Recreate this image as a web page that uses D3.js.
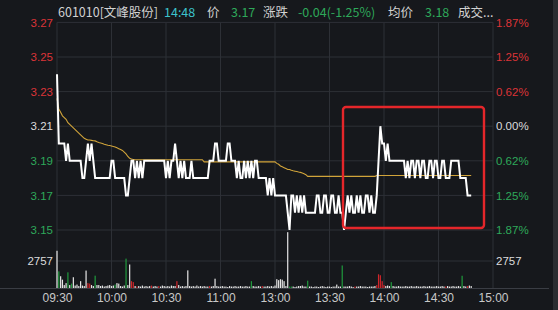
<!DOCTYPE html>
<html>
<head>
<meta charset="utf-8">
<script src="https://cdn.jsdelivr.net/npm/d3@7"></script>
<style>
    body { margin: 0; background: #16181c; overflow: hidden; }
    .lbl { font-family: 'Liberation Sans', Arial, sans-serif; }
    .hdr { font-family: 'Noto Sans CJK SC', sans-serif; font-size: 12.5px; }
</style>
</head>
<body>
<svg id="chart" width="558" height="310"></svg>
<script>
    // minute prices, 09:30 .. 11:30 | 13:01 .. 14:48
    const price = [
        3.24,3.20,3.20,3.20,3.20,3.19,3.20,3.19,3.19,3.19,
        3.19,3.19,3.19,3.19,3.18,3.18,3.19,3.20,3.19,3.20,
        3.19,3.18,3.18,3.18,3.18,3.18,3.18,3.18,3.18,3.18,
        3.19,3.19,3.18,3.18,3.18,3.18,3.18,3.18,3.17,3.17,
        3.18,3.19,3.19,3.18,3.19,3.18,3.19,3.18,3.19,3.19,
        3.19,3.19,3.19,3.19,3.19,3.19,3.19,3.19,3.19,3.19,
        3.18,3.19,3.18,3.19,3.19,3.20,3.19,3.18,3.19,3.18,
        3.19,3.18,3.18,3.18,3.19,3.18,3.18,3.18,3.18,3.18,
        3.18,3.18,3.18,3.18,3.19,3.19,3.19,3.20,3.20,3.19,
        3.19,3.19,3.19,3.19,3.20,3.20,3.19,3.19,3.19,3.18,
        3.19,3.18,3.18,3.19,3.18,3.19,3.18,3.19,3.18,3.19,
        3.19,3.18,3.18,3.18,3.18,3.18,3.17,3.18,3.17,3.18,
        3.17,3.17,3.17,3.17,3.17,3.17,3.17,3.16,3.15,3.17,
        3.17,3.16,3.17,3.16,3.17,3.16,3.17,3.16,3.16,3.16,
        3.16,3.16,3.16,3.17,3.17,3.16,3.16,3.17,3.17,3.16,
        3.16,3.17,3.17,3.16,3.16,3.17,3.16,3.16,3.15,3.16,
        3.17,3.16,3.17,3.16,3.16,3.17,3.16,3.17,3.16,3.16,
        3.17,3.17,3.16,3.17,3.16,3.16,3.17,3.19,3.21,3.20,
        3.20,3.19,3.20,3.19,3.19,3.19,3.19,3.19,3.19,3.19,
        3.19,3.19,3.18,3.19,3.18,3.19,3.19,3.18,3.19,3.19,
        3.18,3.19,3.19,3.18,3.18,3.19,3.19,3.18,3.19,3.19,
        3.18,3.18,3.19,3.19,3.18,3.18,3.18,3.19,3.19,3.19,
        3.19,3.19,3.18,3.18,3.18,3.18,3.17,3.17,3.17
    ];

    const avgPrice = [
        3.226,3.220,3.218,3.216,3.215,3.214,3.212,3.211,3.210,3.209,
        3.208,3.207,3.206,3.205,3.204,3.203,3.2025,3.202,3.202,3.2018,
        3.2016,3.2015,3.201,3.2006,3.2003,3.200,3.1996,3.1993,3.199,3.1988,
        3.1986,3.1983,3.198,3.1975,3.197,3.1965,3.196,3.195,3.194,3.1925,
        3.1914,3.191,3.1908,3.1906,3.1906,3.1906,3.1906,3.1906,3.1906,3.1906,
        3.1906,3.1906,3.1906,3.1906,3.1906,3.1906,3.1906,3.1906,3.1906,3.1906,
        3.1906,3.1906,3.1906,3.1906,3.1906,3.1906,3.1906,3.1906,3.1906,3.1906,
        3.1906,3.1906,3.1906,3.1906,3.1906,3.1906,3.1906,3.1906,3.1906,3.1906,
        3.1906,3.1894,3.1894,3.1894,3.1894,3.1894,3.1894,3.1894,3.1894,3.1894,
        3.1894,3.1894,3.1894,3.1894,3.1894,3.1894,3.1894,3.1894,3.1894,3.1894,
        3.1894,3.1894,3.1894,3.1894,3.1894,3.1894,3.1894,3.1894,3.1894,3.1894,
        3.1894,3.1894,3.1894,3.1894,3.1894,3.1894,3.1894,3.1894,3.1894,3.1894,
        3.1894,3.1885,3.188,3.187,3.1865,3.186,3.1855,3.185,3.185,3.1845,
        3.1842,3.184,3.1838,3.1835,3.1833,3.183,3.1825,3.182,3.181,3.181,
        3.181,3.181,3.181,3.181,3.181,3.181,3.181,3.181,3.181,3.181,
        3.181,3.181,3.181,3.181,3.181,3.181,3.181,3.181,3.181,3.181,
        3.181,3.181,3.181,3.181,3.181,3.181,3.181,3.181,3.181,3.181,
        3.181,3.181,3.181,3.181,3.181,3.181,3.1815,3.1815,3.1815,3.1815,
        3.1815,3.1815,3.1815,3.1815,3.1815,3.1815,3.1815,3.1815,3.1815,3.1815,
        3.1815,3.1815,3.1815,3.1815,3.1815,3.1815,3.1815,3.1815,3.1815,3.1815,
        3.1815,3.1815,3.1815,3.1815,3.1815,3.1815,3.1815,3.1815,3.1815,3.1815,
        3.1815,3.1815,3.1815,3.1815,3.1815,3.1815,3.1815,3.1815,3.1815,3.1815,
        3.1815,3.1815,3.1815,3.1815,3.1815,3.1815,3.1815,3.1815,3.1815
    ];

    const volume = [
        3800,1700,1200,850,300,500,1600,300,450,1100,
        250,350,200,700,250,200,1780,500,450,300,
        200,1260,300,300,200,250,150,200,250,300,
        200,250,350,500,450,200,150,250,3000,300,
        2400,700,600,200,150,200,150,250,150,200,
        150,200,250,150,200,150,200,150,250,200,
        150,200,150,250,200,200,700,300,150,200,
        150,200,1800,200,150,200,150,250,150,200,
        150,200,150,150,200,150,200,950,200,150,
        150,200,150,150,100,200,150,150,200,150,
        150,200,150,150,200,150,150,700,200,150,
        150,200,150,200,150,150,200,150,200,150,
        250,900,800,900,850,700,200,5700,150,150,
        150,100,150,200,200,250,150,150,750,150,
        150,100,150,150,100,150,200,150,100,150,
        150,100,150,150,350,150,150,2300,150,150,
        150,200,150,100,150,150,150,200,150,150,
        150,100,150,150,150,200,300,1400,1300,700,
        300,200,250,200,600,200,150,150,200,150,
        150,150,200,150,150,200,150,150,200,150,
        150,150,200,150,150,200,150,150,150,200,
        150,150,200,150,150,200,150,150,200,150,
        150,200,150,1250,200,150,200,250,200
    ];

    // bar colour per minute: w = flat, r = up, g = down
    const volumeDir = (
        "wgwwwwgwgw" + "wwwwwwwrrw" + "wgwwwwwwww" + "wwgwwwwwgw" +
        "wrrwrwwwww" + "wwrwwwrwww" + "wwwwwwrwww" + "wwwwwwwwww" +
        "wwwwrwwwww" + "wwwwwwwwww" + "wwwwwwwgww" + "wwwrwwwwww" +
        "wwwwwwwwgg" + "wwwwwwwwgw" + "wwwwwwwwww" + "wwwwwwwgww" +
        "wwwwrwwwww" + "wwwwwwrrrr" + "rwwwgwwwww" + "wwwwwwwwww" +
        "wwwwwwwwww" + "wwwwrwwwww" + "wwwgwwrww"
    ).split("");

    const prevClose = 3.21;
    const priceTicks = [3.27, 3.25, 3.23, 3.21, 3.19, 3.17, 3.15];
    const volumeTicks = [2757];
    const timeTicks = [0, 30, 60, 90, 120, 150, 180, 210, 240];
    const timeLabels = ["09:30", "10:00", "10:30", "11:00", "13:00", "13:30", "14:00", "14:30", "15:00"];

    const header = [
        { text: "601010[文峰股份]", x: 58, color: "#d2d2d2" },
        { text: "14:48", x: 164, color: "#3cc3cc" },
        { text: "价", x: 207, color: "#d2d2d2" },
        { text: "3.17", x: 231, color: "#2ea85a" },
        { text: "涨跌", x: 263, color: "#d2d2d2" },
        { text: "-0.04(-1.25%)", x: 298, color: "#2ea85a" },
        { text: "均价", x: 388, color: "#d2d2d2" },
        { text: "3.18", x: 425, color: "#2ea85a" },
        { text: "成交...", x: 458, color: "#d2d2d2" }
    ];

    const RED = "#dc3438", GREEN = "#2ea85a", WHITE = "#dcdcdc", GRID = "#2d3036";

    const svg = d3.select("#chart");
    svg.append("rect").attr("width", 558).attr("height", 310).attr("fill", "#16181c");

    const x = d3.scaleLinear().domain([0, 240]).range([57, 493]);
    const y = d3.scaleLinear().domain([3.15, 3.27]).range([230, 22.4]);
    const yv = d3.scaleLinear().domain([0, 2757]).range([288, 261]);

    const tickColor = p => Math.abs(p - prevClose) < 1e-6 ? WHITE : (p > prevClose ? RED : GREEN);

    // grid
    const grid = svg.append("g");
    grid.selectAll(".hg").data(priceTicks).enter().append("line")
        .attr("x1", x(0)).attr("x2", x(240))
        .attr("y1", d => y(d)).attr("y2", d => y(d))
        .attr("stroke", GRID).attr("stroke-width", 1);
    grid.selectAll(".vg").data(volumeTicks).enter().append("line")
        .attr("x1", x(0)).attr("x2", x(240))
        .attr("y1", d => yv(d)).attr("y2", d => yv(d))
        .attr("stroke", GRID).attr("stroke-width", 1);
    grid.selectAll(".tg").data(timeTicks).enter().append("line")
        .attr("x1", d => x(d)).attr("x2", d => x(d))
        .attr("y1", y(3.27)).attr("y2", yv(0))
        .attr("stroke", GRID).attr("stroke-width", 1);
    grid.append("line").attr("x1", 0).attr("x2", 549)
        .attr("y1", yv(0) + 0.5).attr("y2", yv(0) + 0.5)
        .attr("stroke", "#3a3d44").attr("stroke-width", 1);
    svg.append("rect").attr("x", 553).attr("y", 0).attr("width", 5).attr("height", 310).attr("fill", "#2b2d31");

    // axes
    const leftAxis = svg.append("g").attr("class", "lbl")
        .attr("transform", `translate(${x(0)},0)`)
        .call(d3.axisLeft(y).tickValues(priceTicks).tickSize(0).tickPadding(4).tickFormat(d3.format(".2f")));
    leftAxis.selectAll("text").attr("fill", d => tickColor(d)).style("font-size", "11.5px");

    const rightAxis = svg.append("g").attr("class", "lbl")
        .attr("transform", `translate(${x(240)},0)`)
        .call(d3.axisRight(y).tickValues(priceTicks).tickSize(0).tickPadding(3)
            .tickFormat(d => (Math.abs(d - prevClose) / prevClose * 100).toFixed(2) + "%"));
    rightAxis.selectAll("text").attr("fill", d => tickColor(d)).style("font-size", "11.5px");

    const volLeft = svg.append("g").attr("class", "lbl")
        .attr("transform", `translate(${x(0)},0)`)
        .call(d3.axisLeft(yv).tickValues(volumeTicks).tickSize(0).tickPadding(4).tickFormat(d3.format("d")));
    const volRight = svg.append("g").attr("class", "lbl")
        .attr("transform", `translate(${x(240)},0)`)
        .call(d3.axisRight(yv).tickValues(volumeTicks).tickSize(0).tickPadding(3).tickFormat(d3.format("d")));
    [volLeft, volRight].forEach(a => a.selectAll("text").attr("fill", WHITE).style("font-size", "11.5px"));

    const timeAxis = svg.append("g").attr("class", "lbl")
        .attr("transform", `translate(0,${yv(0)})`)
        .call(d3.axisBottom(x).tickValues(timeTicks).tickSize(0).tickPadding(5).tickFormat((d, i) => timeLabels[i]));
    timeAxis.selectAll("text").attr("fill", "#c8c8c8").style("font-size", "12px");

    svg.selectAll(".domain").remove();

    // volume bars
    const dirColor = { w: "#e6e6e6", r: "#d0262b", g: "#1f9a3c" };
    svg.append("g").selectAll("rect").data(volume).enter().append("rect")
        .attr("x", (d, i) => x(i) - 0.6)
        .attr("width", 1.2)
        .attr("y", d => yv(d))
        .attr("height", d => yv(0) - yv(d))
        .attr("fill", (d, i) => dirColor[volumeDir[i]]);

    // average line
    svg.append("path").datum(avgPrice)
        .attr("d", d3.line().x((d, i) => x(i)).y(d => y(d)))
        .attr("fill", "none").attr("stroke", "#d1a43a").attr("stroke-width", 1.1);

    // price line
    svg.append("path").datum(price)
        .attr("d", d3.line().x((d, i) => x(i)).y(d => y(d)))
        .attr("fill", "none").attr("stroke", "#ffffff").attr("stroke-width", 2)
        .attr("stroke-linejoin", "miter");

    // highlight box
    svg.append("rect")
        .attr("x", 343).attr("y", 107).attr("width", 141).attr("height", 121).attr("rx", 3)
        .attr("fill", "none").attr("stroke", "#e5262a").attr("stroke-width", 2.4);

    // header
    svg.append("g").attr("class", "hdr").selectAll("text").data(header).enter().append("text")
        .attr("x", d => d.x).attr("y", 17)
        .attr("fill", d => d.color)
        .text(d => d.text);
</script>
</body>
</html>
